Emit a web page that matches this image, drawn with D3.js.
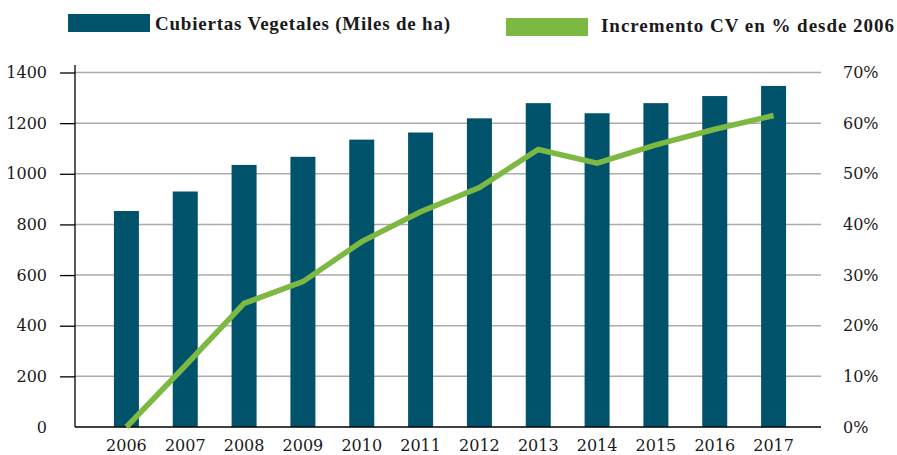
<!DOCTYPE html>
<html>
<head>
<meta charset="utf-8">
<script src="https://cdn.jsdelivr.net/npm/d3@7"></script>
<style>
  html, body { margin: 0; padding: 0; background: #fff; }
  svg { display: block; }
  text { font-family: "DejaVu Serif", "Liberation Serif", serif; fill: #1a1a1a; }
</style>
</head>
<body>
<svg id="chart" width="897" height="455"></svg>
<script>
// ---- data ----
const years = ["2006","2007","2008","2009","2010","2011","2012","2013","2014","2015","2016","2017"];
const cubiertas = [853, 930, 1035, 1067, 1135, 1163, 1219, 1279, 1239, 1279, 1307, 1347];
const incremento = [0, 12.1, 24.4, 28.7, 36.6, 42.5, 47.3, 54.8, 52.1, 55.7, 58.8, 61.5];
const leftTicks = [0, 200, 400, 600, 800, 1000, 1200, 1400];
const rightTicks = [0, 10, 20, 30, 40, 50, 60, 70];
const seriesNames = ["Cubiertas Vegetales (Miles de ha)", "Incremento CV en % desde 2006"];
const colors = ["#00536a", "#7db843"];

// ---- layout ----
const svg = d3.select("#chart");
const plotLeft = 75, plotRight = 821, yBottom = 427, yTop = 72.5;
const tickFont = "16px";

const x = d3.scaleBand().domain(years).range([97, 803]).paddingInner(0.575).paddingOuter(0.2875);
const yL = d3.scaleLinear().domain([0, 1400]).range([yBottom, yTop]);
const yR = d3.scaleLinear().domain([0, 70]).range([yBottom, yTop]);

// gridlines
svg.append("g").selectAll("line").data(leftTicks.filter(d => d > 0)).join("line")
  .attr("x1", plotLeft).attr("x2", plotRight)
  .attr("y1", d => yL(d)).attr("y2", d => yL(d))
  .attr("stroke", "#ababab").attr("stroke-width", 1.5);

// left axis
const gL = svg.append("g").attr("transform", `translate(${plotLeft},0)`)
  .call(d3.axisLeft(yL).tickValues(leftTicks).tickFormat(d3.format("d")).tickSize(15).tickPadding(13).tickSizeOuter(0));
gL.select(".domain").remove();
gL.selectAll(".tick line").attr("stroke", "#000").attr("stroke-width", 1.3);
gL.selectAll(".tick").filter(d => d === 0).select("line").remove();
gL.selectAll("text").style("font-size", tickFont).style("font-family", "DejaVu Serif, serif").attr("fill", "#1a1a1a");
svg.append("line").attr("x1", plotLeft).attr("x2", plotLeft).attr("y1", 65).attr("y2", yBottom)
  .attr("stroke", "#000").attr("stroke-width", 1.3);

// right axis
const gR = svg.append("g").attr("transform", `translate(${plotRight},0)`)
  .call(d3.axisRight(yR).tickValues(rightTicks).tickSize(0).tickPadding(22).tickFormat(d => d + "%"));
gR.select(".domain").remove();
gR.selectAll("text").style("font-size", tickFont).style("font-family", "DejaVu Serif, serif").attr("fill", "#1a1a1a");

// bars
svg.append("g").selectAll("rect").data(years).join("rect")
  .attr("x", d => x(d)).attr("width", x.bandwidth())
  .attr("y", (d, i) => yL(cubiertas[i]))
  .attr("height", (d, i) => yBottom - yL(cubiertas[i]))
  .attr("fill", colors[0]);

// bottom axis
const gB = svg.append("g").attr("transform", `translate(0,${yBottom})`)
  .call(d3.axisBottom(x).tickSize(0).tickPadding(0));
gB.select(".domain").remove();
gB.selectAll("text").attr("dy", null).attr("y", 24).style("font-size", tickFont)
  .style("font-family", "DejaVu Serif, serif").attr("fill", "#1a1a1a");
svg.append("line").attr("x1", plotLeft).attr("x2", plotRight).attr("y1", yBottom).attr("y2", yBottom)
  .attr("stroke", "#000").attr("stroke-width", 1.5);

// line
const line = d3.line().x((d, i) => x(years[i]) + x.bandwidth() / 2).y(d => yR(d));
svg.append("path").datum(incremento).attr("d", line)
  .attr("fill", "none").attr("stroke", colors[1]).attr("stroke-width", 5.5)
  .attr("stroke-linejoin", "miter");

// legend
const legend = svg.append("g");
function fitText(t, target) {
  const n = t.text().length;
  const w = t.node().getComputedTextLength();
  t.style("letter-spacing", ((target - w) / (n - 1)).toFixed(3) + "px");
}
legend.append("rect").attr("x", 68).attr("y", 14).attr("width", 82).attr("height", 18).attr("fill", colors[0]);
const t1 = legend.append("text").attr("x", 155).attr("y", 29.5).text(seriesNames[0])
  .style("font-family", "Liberation Serif, serif").style("font-size", "19px").style("font-weight", "bold");
fitText(t1, 295);
legend.append("rect").attr("x", 506).attr("y", 18).attr("width", 82).attr("height", 18).attr("fill", colors[1]);
const t2 = legend.append("text").attr("x", 601).attr("y", 31.5).text(seriesNames[1])
  .style("font-family", "Liberation Serif, serif").style("font-size", "19px").style("font-weight", "bold");
fitText(t2, 293);
</script>
</body>
</html>
